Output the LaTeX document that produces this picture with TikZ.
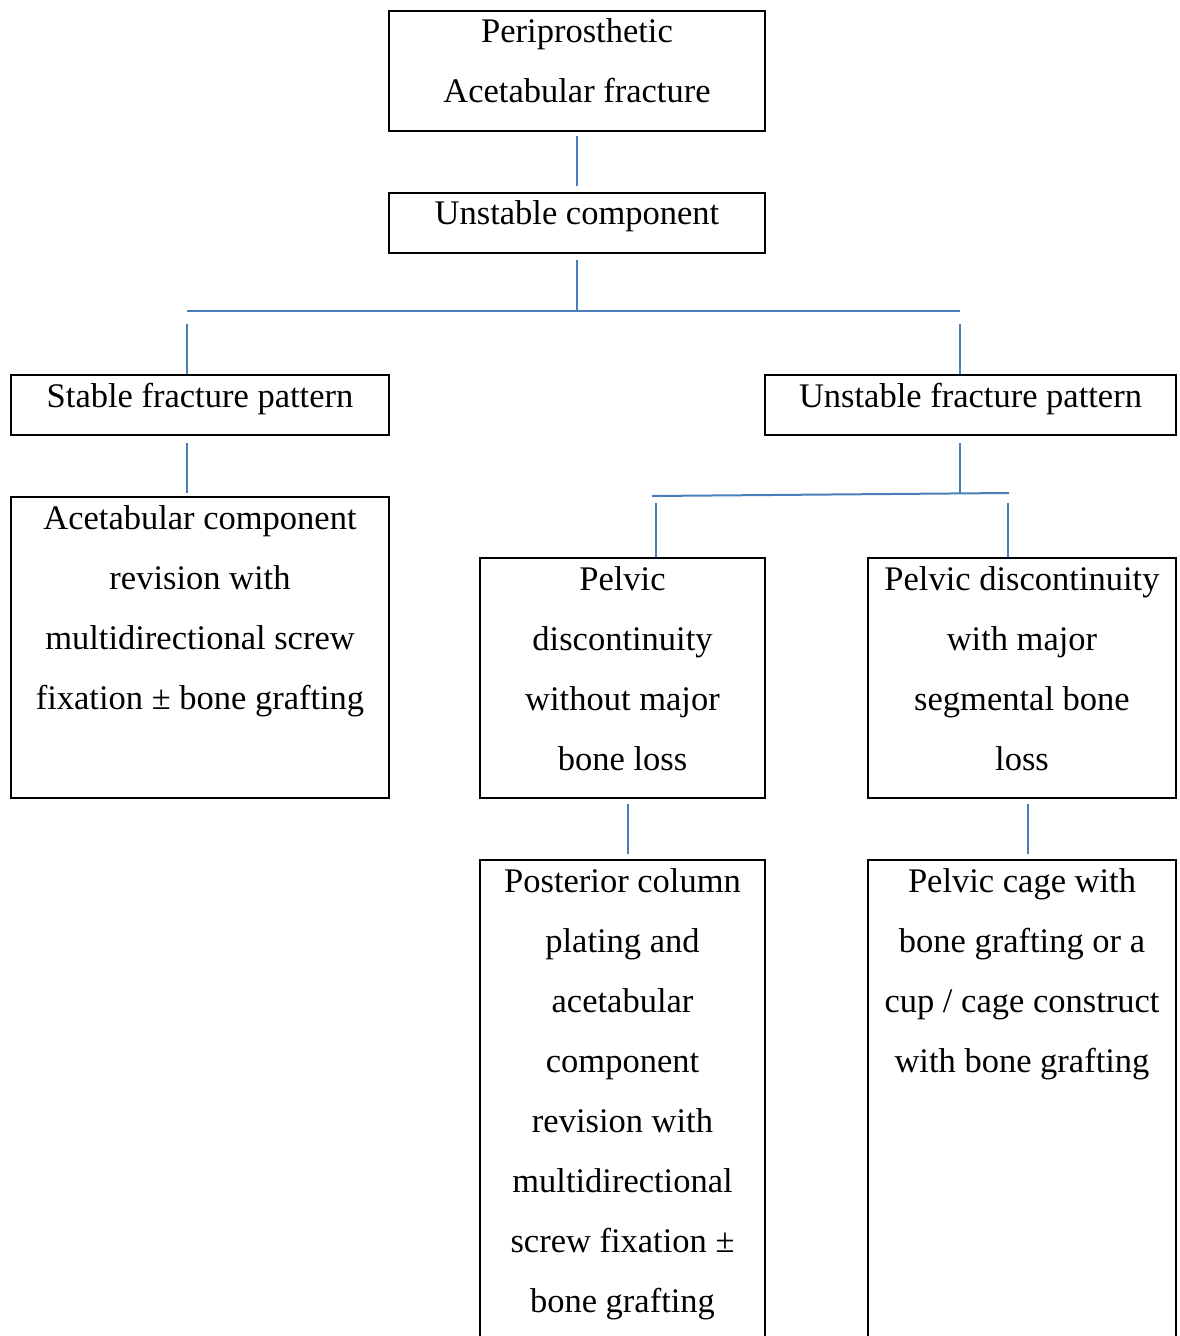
\documentclass[tikz,border=0pt]{standalone}
\usepackage{fontspec}
\setmainfont{Liberation Serif}
\usetikzlibrary{calc}
\definecolor{lineblue}{RGB}{74,126,187}
\begin{document}
\begin{tikzpicture}[x=1pt,y=-1pt,
  box/.style={draw=black,line width=2pt,inner sep=0pt,anchor=north west},
  conn/.style={draw=lineblue,line width=2pt},
  txt/.style={anchor=base,align=center,inner sep=0pt,font=\fontsize{34.5}{60}\selectfont}]
\useasboundingbox (0,0) rectangle (1179,1336);
\clip (0,0) rectangle (1179,1336);
\fill[white] (0,0) rectangle (1179,1336);
% boxes
\node[box,minimum width=376pt,minimum height=120pt] (A) at (388,10) {};
\node[box,minimum width=376pt,minimum height=60pt] (B) at (388,192) {};
\node[box,minimum width=378pt,minimum height=60pt] (C) at (10,374) {};
\node[box,minimum width=411pt,minimum height=60pt] (D) at (764,374) {};
\node[box,minimum width=378pt,minimum height=301pt] (E) at (10,496) {};
\node[box,minimum width=285pt,minimum height=240pt] (F) at (479,557) {};
\node[box,minimum width=308pt,minimum height=240pt] (G) at (867,557) {};
\node[box,minimum width=285pt,minimum height=560pt] (H) at (479,859) {};
\node[box,minimum width=308pt,minimum height=560pt] (I) at (867,859) {};
% texts (anchor base = baseline of the last line)
\node[txt] (At) at ($(A.north)+(0,92)$) {Periprosthetic\\Acetabular fracture};
\node[txt] (Bt) at ($(B.north)+(0,32)$) {Unstable component};
\node[txt] (Ct) at ($(C.north)+(0,33)$) {Stable fracture pattern};
\node[txt] (Dt) at ($(D.north)+(0,33)$) {Unstable fracture pattern};
\node[txt] (Et) at ($(E.north)+(0,213)$) {Acetabular component\\revision with\\multidirectional screw\\fixation ± bone grafting};
\node[txt] (Ft) at ($(F.north)+(0,213)$) {Pelvic\\discontinuity\\without major\\bone loss};
\node[txt] (Gt) at ($(G.north)+(0,213)$) {Pelvic discontinuity\\with major\\segmental bone\\loss};
\node[txt] (Ht) at ($(H.north)+(0,453)$) {Posterior column\\plating and\\acetabular\\component\\revision with\\multidirectional\\screw fixation ±\\bone grafting};
\node[txt] (It) at ($(I.north)+(0,213)$) {Pelvic cage with\\bone grafting or a\\cup / cage construct\\with bone grafting};
% connector coordinates
\coordinate (busL) at (187,311);
\coordinate (busR) at (960,311);
\coordinate (bus2L) at (652,496);
\coordinate (bus2R) at (1009,493);
\coordinate (bus2M) at (960,493.4);
\coordinate (fx) at (656,503);
\coordinate (gx) at (1008,503);
% connectors
\draw[conn] ($(A.south)+(0,4)$) -- ($(B.north)+(0,-6)$);
\draw[conn] ($(B.south)+(0,6)$) -- (B.south |- busL);
\draw[conn] (busL) -- (busR);
\draw[conn] ($(busL)+(0,13)$) -- (busL |- C.north);
\draw[conn] ($(busR)+(0,13)$) -- (busR |- D.north);
\draw[conn] ($(C.south -| busL)+(0,7)$) -- ($(E.north -| busL)+(0,-3)$);
\draw[conn] ($(D.south -| busR)+(0,7)$) -- (bus2M);
\draw[conn] (bus2L) -- (bus2R);
\draw[conn] (fx) -- (fx |- F.north);
\draw[conn] (gx) -- (gx |- G.north);
\draw[conn] ($(F.south)+(5.5,5)$) -- ($(H.north)+(5.5,-5)$);
\draw[conn] ($(G.south)+(6,5)$) -- ($(I.north)+(6,-5)$);
\end{tikzpicture}
\end{document}
